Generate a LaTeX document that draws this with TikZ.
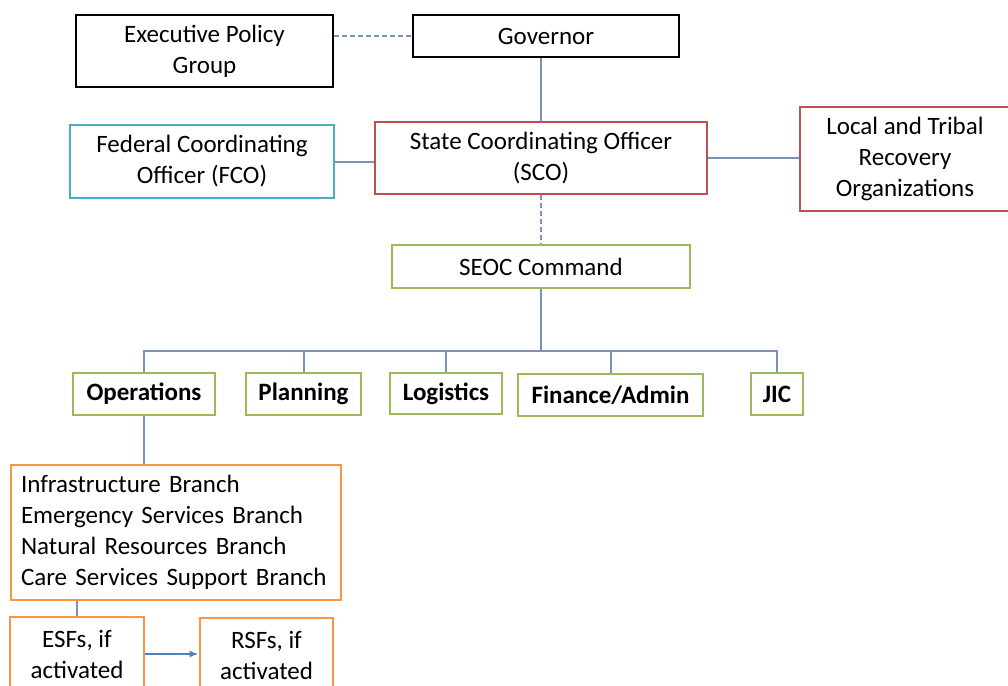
\documentclass[tikz,border=0pt]{standalone}
\usepackage{fontspec}
\setmainfont{Carlito}
\usetikzlibrary{arrows.meta}

\definecolor{linkblue}{RGB}{122,146,182}
\definecolor{arrowblue}{RGB}{79,129,189}
\definecolor{boxred}{RGB}{192,80,77}
\definecolor{boxcyan}{RGB}{75,172,198}
\definecolor{boxgreen}{RGB}{155,187,89}
\definecolor{boxorange}{RGB}{247,150,70}

\begin{document}
\begin{tikzpicture}[x=1pt,y=-1pt,
                    box/.style={rectangle,draw,line width=2.8pt,inner sep=0pt,align=center,
                                font=\fontsize{25}{31}\selectfont},
                    black node/.style={box,draw=black},
                    red node/.style={box,draw=boxred},
                    cyan node/.style={box,draw=boxcyan},
                    green node/.style={box,draw=boxgreen},
                    section node/.style={green node,font=\fontsize{25}{31}\selectfont\bfseries},
                    orange node/.style={box,draw=boxorange},
                    link/.style={draw=linkblue,line width=2pt},
                    dash link/.style={link,dash pattern=on 5pt off 3pt}]

       \useasboundingbox (0,0) rectangle (1008,685);

       \node[black node,minimum width=257pt,minimum height=72pt] (epg) at (204.5,51) {Executive Policy\\Group};
       \node[black node,minimum width=266pt,minimum height=42pt] (gov) at (546,36) {Governor};
       \node[cyan node,minimum width=264pt,minimum height=73pt] (fco) at (202,161.5) {Federal Coordinating\\Officer (FCO)};
       \node[red node,minimum width=332pt,minimum height=72pt] (sco) at (541,158) {State Coordinating Officer\\(SCO)};
       \node[red node,minimum width=210pt,minimum height=104pt] (local) at (905,159) {Local and Tribal\\Recovery\\Organizations};
       \node[green node,minimum width=298pt,minimum height=43pt] (seoc) at (541,266.5) {SEOC Command};

       \node[section node,minimum width=142pt,minimum height=42pt] (ops) at (144,394) {Operations};
       \node[section node,minimum width=115pt,minimum height=42pt] (plan) at (303.5,394) {Planning};
       \node[section node,minimum width=112pt,minimum height=41pt] (logi) at (446,393.5) {Logistics};
       \node[section node,minimum width=185pt,minimum height=42pt] (fin) at (610.5,395) {Finance/Admin};
       \node[section node,minimum width=52pt,minimum height=42pt] (jic) at (777,394) {JIC};

       \node[orange node,minimum width=330pt,minimum height=135pt,text width=310pt,align=left] (branch) at (176,532.5)
            {Infrastructure Branch\\Emergency Services Branch\\Natural Resources Branch\\Care Services Support Branch};
       \node[orange node,minimum width=134pt,minimum height=74pt] (esf) at (77,654) {ESFs, if\\activated};
       \node[orange node,minimum width=133pt,minimum height=74pt] (rsf) at (266.5,655) {RSFs, if\\activated};

       \coordinate (bus) at (541,351);

       \draw[dash link] (epg.east |- gov.west) -- (gov.west);
       \draw[link] (sco.north |- gov.south) -- (sco.north);
       \draw[link] (fco.east) -- (fco.east -| sco.west);
       \draw[link] (sco.east) -- (sco.east -| local.west);
       \draw[dash link] (sco.south) -- (seoc.north);

       \path[link]
         (seoc) edge (bus);

       \draw[link] (bus) -| (ops);
       \draw[link] (bus) -| (plan);
       \draw[link] (bus) -| (logi);
       \draw[link] (bus) -| (fin);
       \draw[link] (bus) -| (jic);

       \draw[link] (ops.south) -- (ops.south |- branch.north);
       \draw[link] (esf.north) -- (esf.north |- branch.south);
       \draw[link,draw=arrowblue,-{Latex[length=9pt,width=7pt]}] (esf.east) -- (esf.east -| rsf.west);

    \end{tikzpicture}
\end{document}
